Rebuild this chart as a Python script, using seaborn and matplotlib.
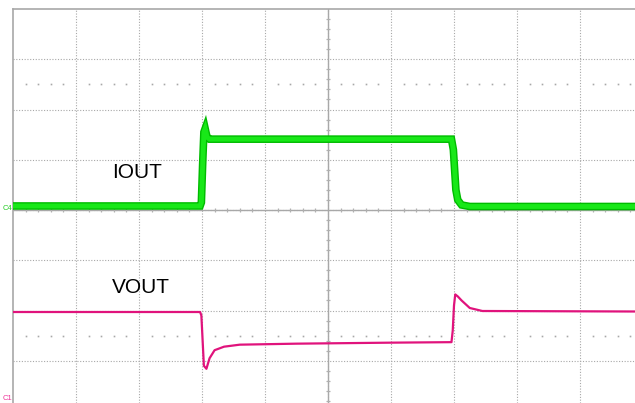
import numpy as np
import pandas as pd
import matplotlib
matplotlib.use('Agg')
import matplotlib.pyplot as plt
import seaborn as sns

# time in divisions (0..10), level in divisions (center = 0)
iout_t = [0.0, 2.97, 2.99, 3.01, 3.03, 3.05, 3.08, 3.12, 5.0, 6.96, 6.99, 7.01, 7.03, 7.06, 7.12, 7.25, 9.9]
iout_v = [0.08, 0.08, 0.15, 0.9, 1.55, 1.62, 1.45, 1.41, 1.41, 1.41, 1.2, 0.8, 0.4, 0.2, 0.1, 0.07, 0.07]

vout_t = [0.0, 2.97, 2.99, 3.01, 3.03, 3.07, 3.12, 3.2, 3.35, 3.6, 4.5, 6.0, 6.96, 6.98, 7.0, 7.02,
          7.06, 7.12, 7.25, 7.45, 9.9]
vout_v = [-2.03, -2.03, -2.1, -2.6, -3.1, -3.16, -2.95, -2.79, -2.72, -2.68, -2.66, -2.64, -2.63, -2.4,
          -1.9, -1.68, -1.72, -1.8, -1.95, -2.01, -2.02]

labels = ['IOUT', 'VOUT']
label_pos = [(1.57, 0.75), (1.57, -1.55)]

sns.set_style('white')
plt.rcParams['font.family'] = ['Liberation Sans', 'DejaVu Sans']

fig = plt.figure(figsize=(6.35, 4.03), dpi=100)
ax = fig.add_axes([13 / 635, 0, 622 / 635, 394 / 403])
ax.set_xlim(0, 622 / 63.0)
ax.set_ylim(4 - 394 / 50.25, 4)

# graticule
for gx in range(1, 10):
    ax.axvline(gx, color='#a8a8a8', lw=0.8, ls=(0, (1, 1.5)), zorder=1)
for gy in range(-3, 4):
    ax.axhline(gy, color='#a8a8a8', lw=0.8, ls=(0, (1, 1.5)), zorder=1)
ax.axvline(5, color='#a8a8a8', lw=1.0, zorder=1)
ax.axhline(0, color='#a8a8a8', lw=1.0, zorder=1)

minor_x = [i / 5 for i in range(1, 50) if i % 5]
minor_y = [i / 5 for i in range(-19, 20) if i % 5]
ax.plot(minor_x, [0] * len(minor_x), ls='none', marker='|', ms=3.5, color='#b0b0b0', mew=0.9, zorder=1)
ax.plot([5] * len(minor_y), minor_y, ls='none', marker='_', ms=3.5, color='#b0b0b0', mew=0.9, zorder=1)
for yy in (2.5, -2.5):
    ax.plot(minor_x, [yy] * len(minor_x), ls='none', marker='s', ms=1.2, color='#a8a8a8', mew=0, zorder=1)

for s in ['right', 'bottom']:
    ax.spines[s].set_visible(False)
for s in ['left', 'top']:
    ax.spines[s].set_color('#a8a8a8')
    ax.spines[s].set_linewidth(1.2)
ax.set_xticks([])
ax.set_yticks([])

df_i = pd.DataFrame({'t': iout_t, 'v': iout_v})
df_v = pd.DataFrame({'t': vout_t, 'v': vout_v})
sns.lineplot(data=df_i, x='t', y='v', estimator=None, sort=False, color='#00bb00', lw=5.5, ax=ax, zorder=3,
             solid_capstyle='butt', solid_joinstyle='miter')
sns.lineplot(data=df_i, x='t', y='v', estimator=None, sort=False, color='#18e818', lw=3.5, ax=ax, zorder=4,
             solid_capstyle='butt', solid_joinstyle='miter')
sns.lineplot(data=df_v, x='t', y='v', estimator=None, sort=False, color='#e0137c', lw=1.6, ax=ax, zorder=3)
ax.set_xlabel('')
ax.set_ylabel('')

for lab, (lx, ly) in zip(labels, label_pos):
    ax.text(lx, ly, lab, fontsize=15, color='black', va='center', ha='left', zorder=5)

fig.text(3 / 635, 1 - 208 / 403, 'C4', fontsize=5.5, color='#22cc22', va='center', ha='left')
fig.text(3 / 635, 1 - 398 / 403, 'C1', fontsize=5.5, color='#ee3399', va='center', ha='left')

fig.savefig('out.png', dpi=100)
